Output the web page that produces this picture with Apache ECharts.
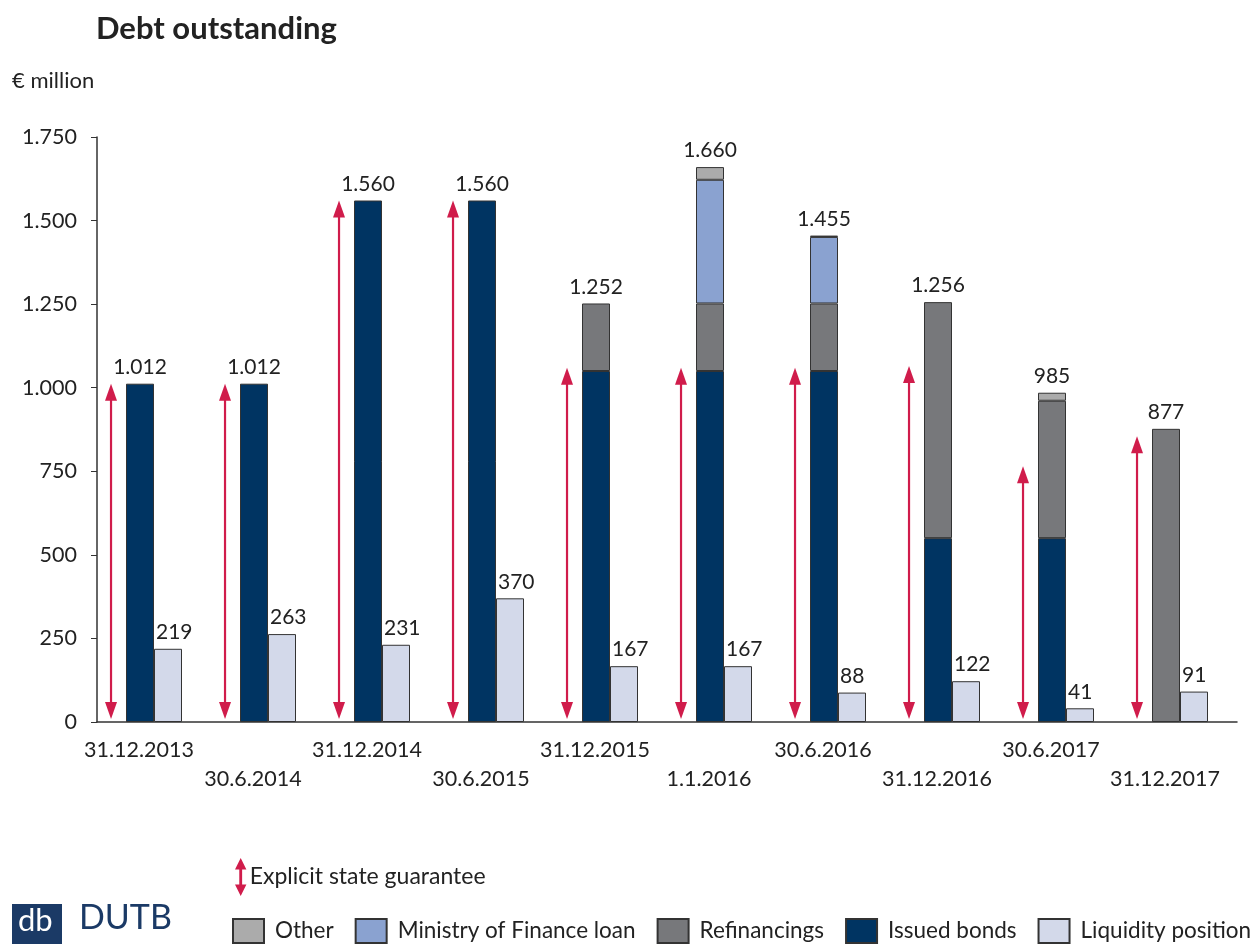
<!DOCTYPE html>
<html>
<head>
<meta charset="utf-8">
<script src="https://cdn.jsdelivr.net/npm/echarts@6/dist/echarts.min.js"></script>
<style>
  html, body { margin: 0; padding: 0; background: #fff; }
  #chart { width: 1253px; height: 944px; }
</style>
</head>
<body>
<div id="chart"></div>
<script>
// data (EUR million)
var categories = ['31.12.2013', '30.6.2014', '31.12.2014', '30.6.2015', '31.12.2015',
                  '1.1.2016', '30.6.2016', '31.12.2016', '30.6.2017', '31.12.2017'];
var issuedBonds  = [1012, 1012, 1560, 1560, 1050, 1050, 1050, 550, 550, 0];
var refinancings = [0, 0, 0, 0, 202, 202, 202, 706, 411, 877];
var mofLoan      = [0, 0, 0, 0, 0, 370, 199, 0, 0, 0];
var other        = [0, 0, 0, 0, 0, 38, 4, 0, 24, 0];
var liquidity    = [219, 263, 231, 370, 167, 167, 88, 122, 41, 91];
var guarantee    = [1012, 1012, 1560, 1560, 1060, 1060, 1060, 1065, 765, 855];
var yTicks       = [0, 250, 500, 750, 1000, 1250, 1500, 1750];

var totals = categories.map(function (c, i) {
  return issuedBonds[i] + refinancings[i] + mofLoan[i] + other[i];
});

var FONT = 'Lato';
var TEXT = '#222';
var RED = '#d01c4b';

function fmt(v) {
  return String(v).replace(/\B(?=(\d{3})+(?!\d))/g, '.');
}

// empty stack pieces get no outline
function items(arr) {
  return arr.map(function (v) {
    return v === 0 ? { value: 0, itemStyle: { borderWidth: 0 } } : v;
  });
}

var myChart = echarts.init(document.getElementById('chart'));

var barBorder = { borderColor: '#333', borderWidth: 1 };

var option = {
  animation: false,
  textStyle: { fontFamily: FONT, color: TEXT },
  title: {
    text: 'Debt outstanding',
    left: 91,
    top: 8,
    textStyle: { fontFamily: FONT, fontSize: 31, fontWeight: 'bold', color: TEXT }
  },
  legend: [
    {
      data: [{ name: 'Explicit state guarantee', icon: 'path://M6,0 L12,12 L7.5,12 L7.5,28 L12,28 L6,40 L0,28 L4.5,28 L4.5,12 L0,12 Z' }],
      left: 230,
      top: 853,
      itemWidth: 12,
      itemHeight: 38,
      itemGap: 6,
      selectedMode: false,
      textStyle: { fontFamily: FONT, fontSize: 23, color: TEXT, padding: [0, 0, 0, -2] }
    },
    {
      data: ['Other', 'Ministry of Finance loan', 'Refinancings', 'Issued bonds', 'Liquidity position'],
      left: 227,
      top: 913,
      width: 1200,
      icon: 'rect',
      itemWidth: 31,
      itemHeight: 24,
      itemGap: 21,
      selectedMode: false,
      textStyle: { fontFamily: FONT, fontSize: 22.5, color: TEXT, padding: [0, 0, 0, 6] }
    }
  ],
  graphic: [
    {
      type: 'text',
      left: 12,
      top: 70,
      style: { text: '€ million', fontFamily: FONT, fontSize: 22, fill: TEXT }
    },
    {
      type: 'rect',
      left: 12,
      top: 904,
      shape: { width: 50, height: 40 },
      style: { fill: '#1b3a66' }
    },
    {
      type: 'text',
      left: 18,
      top: 905,
      style: { text: 'db', fontFamily: FONT, fontSize: 31, fill: '#fff' }
    },
    {
      type: 'text',
      left: 79,
      top: 901,
      style: { text: 'DUTB', fontFamily: FONT, fontSize: 34, fill: '#1b3a66' }
    }
  ],
  grid: {
    left: 97,
    top: 137,
    width: 1140,
    bottom: 222,
    containLabel: false
  },
  xAxis: {
    type: 'category',
    data: categories,
    axisLine: { lineStyle: { color: '#333', width: 1.5 } },
    axisTick: { show: false },
    axisLabel: {
      interval: 0,
      margin: 14,
      fontFamily: FONT,
      fontSize: 21.5,
      color: TEXT,
      lineHeight: 29,
      padding: [0, 30, 0, 0],
      formatter: function (v, i) { return i % 2 ? '\n' + v : v; }
    }
  },
  yAxis: {
    type: 'value',
    min: yTicks[0],
    max: yTicks[yTicks.length - 1],
    interval: 250,
    splitLine: { show: false },
    axisLine: { show: true, lineStyle: { color: '#333', width: 1.5 } },
    axisTick: { show: true, length: 6, lineStyle: { color: '#333' } },
    axisLabel: {
      margin: 20,
      fontFamily: FONT,
      fontSize: 21.5,
      color: TEXT,
      formatter: function (v) { return fmt(v); }
    }
  },
  series: [
    {
      name: 'Explicit state guarantee',
      type: 'custom',
      itemStyle: { color: RED },
      encode: { x: 0, y: 1 },
      data: guarantee.map(function (v, i) { return [i, v]; }),
      renderItem: function (params, api) {
        var top = api.coord([api.value(0), api.value(1)]);
        var bot = api.coord([api.value(0), 0]);
        var band = api.size([1, 0])[0];
        var cx = top[0] - band * 0.377;
        var y1 = top[1], y2 = bot[1] - 3;
        return {
          type: 'group',
          children: [
            { type: 'line', shape: { x1: cx, y1: y1 + 10, x2: cx, y2: y2 - 10 },
              style: { stroke: RED, lineWidth: 2.2 } },
            { type: 'polygon', shape: { points: [[cx, y1], [cx - 6, y1 + 17], [cx + 6, y1 + 17]] },
              style: { fill: RED } },
            { type: 'polygon', shape: { points: [[cx, y2], [cx - 6, y2 - 17], [cx + 6, y2 - 17]] },
              style: { fill: RED } }
          ]
        };
      },
      z: 3
    },
    {
      name: 'Issued bonds',
      type: 'bar',
      stack: 'debt',
      barWidth: 28,
      barGap: '0%',
      itemStyle: Object.assign({ color: '#003462' }, barBorder),
      data: items(issuedBonds)
    },
    {
      name: 'Refinancings',
      type: 'bar',
      stack: 'debt',
      barWidth: 28,
      itemStyle: Object.assign({ color: '#77787b' }, barBorder),
      data: items(refinancings)
    },
    {
      name: 'Ministry of Finance loan',
      type: 'bar',
      stack: 'debt',
      barWidth: 28,
      itemStyle: Object.assign({ color: '#8aa2d0' }, barBorder),
      data: items(mofLoan)
    },
    {
      name: 'Other',
      type: 'bar',
      stack: 'debt',
      barWidth: 28,
      itemStyle: Object.assign({ color: '#ababab' }, barBorder),
      label: {
        show: true,
        position: 'top',
        distance: 6,
        fontFamily: FONT,
        fontSize: 21,
        color: TEXT,
        formatter: function (p) { return fmt(totals[p.dataIndex]); }
      },
      data: items(other)
    },
    {
      name: 'Liquidity position',
      type: 'bar',
      barWidth: 28,
      barGap: '0%',
      itemStyle: Object.assign({ color: '#d3d9ea' }, barBorder),
      label: {
        show: true,
        position: 'top',
        distance: 6,
        align: 'left',
        offset: [-12, 0],
        fontFamily: FONT,
        fontSize: 21,
        color: TEXT
      },
      data: liquidity
    }
  ]
};

myChart.setOption(option);
window.addEventListener('resize', function () {
  myChart.resize();
});
</script>
</body>
</html>
